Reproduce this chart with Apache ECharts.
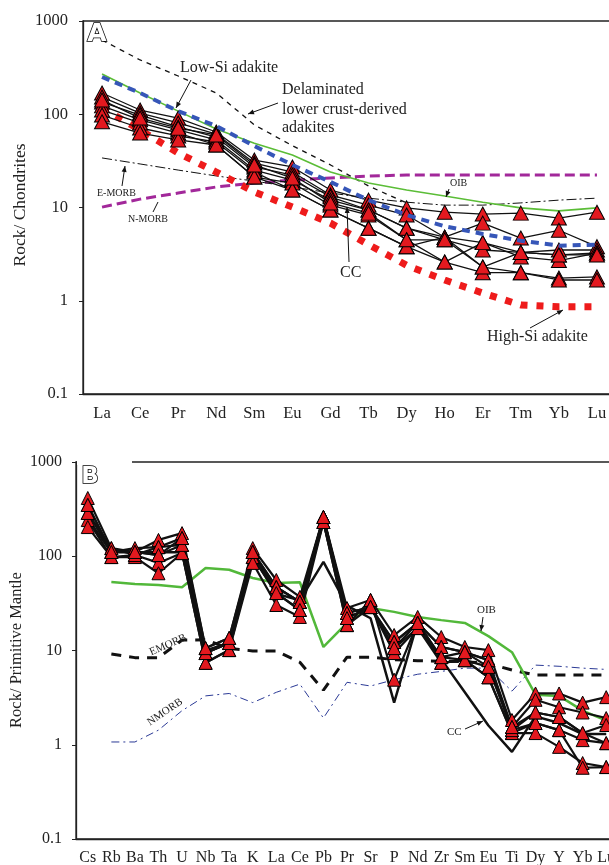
<!DOCTYPE html>
<html>
<head>
<meta charset="utf-8">
<script src="https://cdn.jsdelivr.net/npm/echarts@6/dist/echarts.min.js"></script>
<style>html,body{margin:0;padding:0;background:#fff}#c{width:609px;height:865px}</style>
</head>
<body>
<div id="c"></div>
<script>
// ---------- Panel A: REE normalized to chondrites ----------
const catsA = ['La','Ce','Pr','Nd','Sm','Eu','Gd','Tb','Dy','Ho','Er','Tm','Yb','Lu'];
const delamA  = [625,382,257,169,77,46,28.6,17,11.2,null,null,null,null,null];
const oibA    = [270,169,108,69.5,49,36.6,24,18.3,15.4,13.3,11.4,9.9,9.2,9.9];
const lowSiA  = [251,169,108,74.8,45.6,28.6,18.8,12,8.3,6.3,5.2,4.4,3.9,4.0];
const highSiA = [117,67.8,38.4,24,14.7,10.1,6.8,4.0,2.4,1.67,1.21,0.90,0.86,0.86];
const nmorbA  = [10.1,12.3,14.3,16.6,18.3,19.7,20.7,21.7,22.3,22.3,22.3,22.3,22.3,22.3];
const emorbA  = [34,29.3,25.2,21.8,19.2,16.6,14.3,12.6,11.4,10.6,10.6,11.2,12,12.6];
const sampleA1 = [169,111,91,64.5,32.3,27.2,15.4,12,9.9,8.9,8.5,8.7,7.7,8.9];
const sampleA2 = [153,103,80.6,61.4,30,24,13.6,10.6,8.3,4.8,6.8,4.7,5.7,3.8];
const sampleA3 = [135,98,73,57,27.2,22.3,13,9.4,6.0,4.8,4.2,3.3,3.5,3.5];
const sampleA4 = [123,87,67.8,53,25.2,19.7,12,9.4,6.0,4.5,3.5,3.3,3.1,3.25];
const sampleA5 = [111,80.6,62.9,46.8,21.2,18.3,10.6,8.3,4.5,2.6,4.2,2.95,2.7,3.25];
const sampleA6 = [98,71.2,58.5,50.4,24,15.4,9.4,6.0,3.8,4.8,2.3,2.0,1.75,1.8];
const sampleA7 = [83,62.9,53,46.8,21.2,15.4,9.4,6.0,3.8,2.6,2.0,2.0,1.67,1.67];
const sampleA8 = [142,91,71,60,28.6,20.7,11.2,8.7,4.5,4.5,2.3,3.3,3.1,3.1];

// ---------- Panel B: spider diagram normalized to primitive mantle ----------
const catsB = ['Cs','Rb','Ba','Th','U','Nb','Ta','K','La','Ce','Pb','Pr','Sr','P','Nd','Zr','Sm','Eu','Ti','Dy','Y','Yb','Lu'];
const oibB   = [null,53.3,50.8,49.6,47,75,72,58.8,52,53,10.9,19.6,28.2,25.7,22.7,21,19.6,14.2,9.6,3.4,3.3,2.3,1.8];
const emorbB = [null,9.2,8.4,8.4,12.9,13,10.5,9.9,9.9,7.5,3.8,8.5,8.5,8.0,7.8,7.7,7.6,7.3,6.2,5.5,5.5,5.5,5.5];
const nmorbB = [null,1.07,1.07,1.43,2.3,3.3,3.5,2.8,3.6,4.4,1.92,4.6,4.2,4.9,5.6,6.0,6.5,6.5,3.7,7.0,6.8,6.5,6.3];
const ccB    = [250,110,110,110,110,10,12,100,40,34,87,30,22,2.8,20,8.1,3.6,1.6,0.84,2.0,1.7,1.3,1.3];
const sampleB1 = [415,122,111,149,176,10.6,13.6,122,56,37,261,28.2,34.4,14.6,22.7,13.9,10.9,10.1,1.83,3.5,3.5,2.8,3.2];
const sampleB2 = [350,111,122,125,156,9.4,12.0,111,47,32.7,261,25,28.9,12.3,19.6,10.9,9.6,7.9,1.54,3.0,2.5,2.2,1.92];
const sampleB3 = [288,111,111,103,132,9.4,12.0,98,47,32.7,231,22.1,28.9,10.6,17.3,8.5,7.9,6.7,1.43,2.2,1.97,1.33,1.62];
const sampleB4 = [242,98,103,85,108,7.4,10.1,98,40.7,26.9,231,18.6,28.9,9.4,17.3,7.4,7.9,5.2,1.33,1.70,1.43,1.12,1.04];
const sampleB5 = [204,98,98,66,108,7.4,10.1,85,30.4,22.7,231,18.6,34.4,4.9,19.6,7.4,7.9,5.2,1.33,1.33,0.95,0.64,0.58];
const sampleB6 = [288,122,103,125,132,9.4,12.0,111,47,32.7,261,25,28.9,12.3,19.6,10.9,9.6,7.9,1.43,1.70,1.43,0.57,0.58];
const sampleB7 = [350,111,111,103,156,10.6,13.6,111,40.7,26.9,261,22.1,28.9,10.6,19.6,8.5,9.6,6.7,1.54,2.2,1.97,1.33,1.04];

const SERIF = '"Liberation Serif","DejaVu Serif","Times New Roman",serif';
const RED = '#e3191f';

function refLine(data, gi, color, width, type, z) {
  return {type:'line', xAxisIndex:gi, yAxisIndex:gi, data, symbol:'none', connectNulls:false,
    lineStyle:{color, width, type}, z:z||2, silent:true, animation:false};
}
function sample(data, gi, width, size) {
  return {type:'line', xAxisIndex:gi, yAxisIndex:gi, data, symbol:'triangle', symbolSize:size,
    lineStyle:{color:'#111', width}, itemStyle:{color:RED, borderColor:'#000', borderWidth:1},
    z:5, animation:false};
}
function xAx(gi, cats, fs) {
  return {type:'category', gridIndex:gi, data:cats, boundaryGap:true,
    axisLine:{lineStyle:{color:'#222', width:1.3}},
    axisTick:{alignWithLabel:true, inside:true, length:5, lineStyle:{color:'#222'}},
    axisLabel:{interval:0, fontFamily:SERIF, fontSize:fs, color:'#222', margin:11},
    splitLine:{show:false}};
}
function yAx(gi, margin, fs) {
  return {type:'log', logBase:10, gridIndex:gi, min:0.1, max:1000,
    axisLine:{show:true, lineStyle:{color:'#222', width:1.3}},
    axisTick:{show:true, length:4, lineStyle:{color:'#222'}},
    axisLabel:{fontFamily:SERIF, fontSize:fs, color:'#222', margin,
      formatter: v => String(v)},
    splitLine:{show:false}, minorTick:{show:false}};
}
function arrow(x1,y1,x2,y2) {
  const a = Math.atan2(y2-y1, x2-x1), L = 6, W = 2.5;
  const c = Math.cos(a), s = Math.sin(a);
  return [
    {type:'line', shape:{x1,y1,x2,y2}, style:{stroke:'#111', lineWidth:1}, z:20},
    {type:'polygon', shape:{points:[[x2,y2],[x2-L*c+W*s, y2-L*s-W*c],[x2-L*c-W*s, y2-L*s+W*c]]}, style:{fill:'#111'}, z:20}
  ];
}
function label(x,y,text,size,opts) {
  opts = opts || {};
  return {type:'text', x, y, rotation:opts.rot||0, z:20,
    style:{text, fontFamily:opts.family||SERIF, fontSize:size, fontWeight:opts.weight||'normal',
      fill:opts.fill||'#222', stroke:opts.stroke, lineWidth:opts.lw||0,
      align:opts.align||'left', verticalAlign:'middle', textAlign:opts.align||'left', textVerticalAlign:'middle'}};
}

const graphics = [].concat(
  // axis titles
  label(20,205,'Rock/ Chondrites',17.5,{rot:Math.PI/2, align:'center'}),
  label(17,650,'Rock/ Primitive Mantle',16.5,{rot:Math.PI/2, align:'center'}),
  // panel letters
  label(97,34,'A',25,{family:'"DejaVu Sans",sans-serif', weight:'bold', fill:'#fff', stroke:'#000', lw:1.5, align:'center'}),
  [{type:'rect', shape:{x:77,y:458,width:55,height:7}, style:{fill:'#fff'}, z:19}],
  label(90,477,'B',23,{family:'"DejaVu Sans",sans-serif', weight:'bold', fill:'#fff', stroke:'#000', lw:1.5, align:'center'}),
  // panel A annotations
  label(180,68,'Low-Si adakite',16),
  arrow(191,80,176,108),
  label(282,90,'Delaminated',16),
  label(282,110,'lower crust-derived',16),
  label(282,128,'adakites',16),
  arrow(278,103,248,114),
  label(97,193,'E-MORB',10),
  arrow(122,186,125,166),
  label(128,219,'N-MORB',10),
  [{type:'line', shape:{x1:153,y1:212,x2:158,y2:202}, style:{stroke:'#111', lineWidth:1}, z:20}],
  label(450,183,'OIB',10),
  arrow(449,189,446,197),
  label(340,273,'CC',16),
  arrow(349,262,347,207),
  label(487,337,'High-Si adakite',16),
  arrow(530,328,563,310),
  // panel B annotations
  label(477,610,'OIB',11),
  arrow(483,617,481,631),
  label(447,732,'CC',11),
  arrow(465,729,483,721),
  label(168,645,'EMORB',11,{rot:0.42, align:'center'}),
  label(165,712,'NMORB',11,{rot:0.6, align:'center'})
);

const chart = echarts.init(document.getElementById('c'), null, {renderer:'canvas'});
chart.setOption({
  animation:false,
  backgroundColor:'#fff',
  grid:[
    {left:83, top:21, width:533, height:373, show:true, borderColor:'#222', borderWidth:1.3, backgroundColor:'transparent', outerBoundsMode:'none', containLabel:false},
    {left:76, top:462, width:542, height:377, show:true, borderColor:'#222', borderWidth:1.3, backgroundColor:'transparent', outerBoundsMode:'none', containLabel:false}
  ],
  xAxis:[xAx(0,catsA,16.5), xAx(1,catsB,16)],
  yAxis:[yAx(0,15,16.5), yAx(1,14,16)],
  series:[
    refLine(nmorbA,0,'#a2289a',3,[10,5]),
    refLine(emorbA,0,'#111',1,[10,3,2,3]),
    refLine(delamA,0,'#111',1.3,[5,5]),
    refLine(highSiA,0,'#ee1b1b',7,[7,9]),
    refLine(oibA,0,'#5bbd37',1.6,'solid'),
    refLine(lowSiA,0,'#3656b8',4,[8,6],6),
    sample(sampleA1,0,1.3,[15,14]),
    sample(sampleA2,0,1.3,[15,14]),
    sample(sampleA3,0,1.3,[15,14]),
    sample(sampleA4,0,1.3,[15,14]),
    sample(sampleA5,0,1.3,[15,14]),
    sample(sampleA6,0,1.3,[15,14]),
    sample(sampleA7,0,1.3,[15,14]),
    sample(sampleA8,0,1.3,[15,14]),
    refLine(nmorbB,1,'#2b3a96',1,[8,4,2,4]),
    refLine(emorbB,1,'#111',3,[10,8]),
    refLine(oibB,1,'#52b83a',2.5,'solid'),
    refLine(ccB,1,'#111',2.5,'solid',4),
    sample(sampleB1,1,2.2,[13,13]),
    sample(sampleB2,1,2.2,[13,13]),
    sample(sampleB3,1,2.2,[13,13]),
    sample(sampleB4,1,2.2,[13,13]),
    sample(sampleB5,1,2.2,[13,13]),
    sample(sampleB6,1,2.2,[13,13]),
    sample(sampleB7,1,2.2,[13,13])
  ],
  graphic:{elements:graphics}
});
</script>
</body>
</html>
